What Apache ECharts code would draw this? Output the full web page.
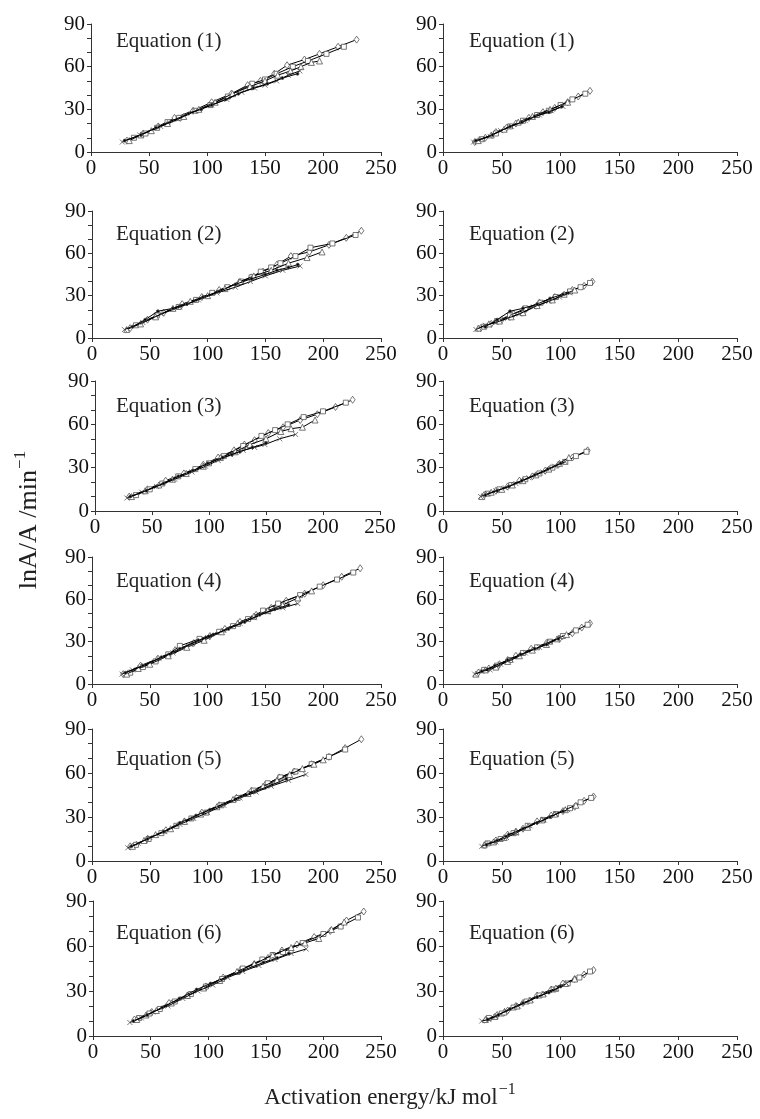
<!DOCTYPE html>
<html>
<head>
<meta charset="utf-8">
<script src="https://cdn.jsdelivr.net/npm/echarts@6/dist/echarts.min.js"></script>
<style>
html, body {margin: 0; padding: 0; background: #fff;}
#main {width: 760px; height: 1119px;}
</style>
</head>
<body>
<div id="main"></div>
<script>
// x ticks / y ticks shared by every panel
var xTicks = [0, 50, 100, 150, 200, 250];
var yTicks = [0, 30, 60, 90];
var panelTitles = ['Equation (1)', 'Equation (2)', 'Equation (3)', 'Equation (4)', 'Equation (5)', 'Equation (6)'];
var markerKinds = ['diamond', 'square', 'triangle', 'cross', 'dot'];

// left column: [diamond, square, triangle, cross, dot] series, each [E, lnA]
var left1 = [
    [[31,8],[45,13],[58,18],[72,24],[88,29],[104,35],[121,41],[135,47],[146,50],[158,55],[169,61],[184,65],[197,69],[213,74],[229,79]],
    [[37,10],[47,13],[57,17],[66,21],[76,24],[90,29],[103,33],[118,39],[139,48],[150,51],[160,55],[174,60],[187,64],[203,69],[218,74]],
    [[33,8],[43,12],[52,15],[66,20],[80,25],[93,30],[107,35],[122,41],[137,46],[150,50],[161,54],[172,57],[181,60],[190,63],[197,64]],
    [[27,7],[42,12],[60,18],[75,23],[90,29],[104,33],[117,37],[130,42],[141,45],[150,47],[160,50],[170,54],[180,57]],
    [[29,8],[43,12],[56,17],[70,22],[84,27],[95,30],[104,33],[116,37],[127,41],[140,45],[152,48],[165,52],[178,55]]
];
var left2 = [
    [[33,7],[48,13],[62,18],[78,24],[95,29],[110,34],[127,39],[138,43],[148,47],[160,52],[172,58],[188,61],[205,66],[220,71],[233,76]],
    [[38,9],[56,16],[75,22],[90,27],[104,32],[117,36],[129,40],[138,43],[146,47],[155,50],[163,53],[176,58],[189,64],[208,67],[228,73]],
    [[30,6],[42,10],[55,15],[70,21],[85,26],[100,30],[115,35],[128,40],[140,44],[155,48],[170,53],[186,57],[199,61]],
    [[28,6],[44,11],[60,17],[76,22],[92,27],[108,32],[124,36],[137,40],[150,44],[165,48],[180,51]],
    [[35,8],[46,13],[57,19],[70,21],[82,24],[96,29],[110,33],[124,38],[138,42],[150,45],[160,48],[170,50],[178,52]]
];
var left3 = [
    [[30,10],[46,15],[62,21],[78,26],[95,32],[108,37],[122,42],[131,46],[140,49],[152,54],[165,58],[180,63],[195,67],[211,72],[226,77]],
    [[36,11],[48,15],[59,19],[73,24],[88,29],[100,33],[113,38],[130,45],[146,52],[158,56],[169,60],[183,65],[200,69],[220,75]],
    [[32,10],[44,14],[56,18],[68,22],[80,26],[95,31],[110,37],[123,41],[136,46],[150,50],[163,55],[172,57],[182,58],[193,63]],
    [[28,9],[41,13],[54,17],[70,22],[85,27],[97,31],[108,35],[119,39],[130,42],[140,44],[149,46],[162,50],[176,53]],
    [[31,10],[45,14],[60,19],[73,24],[86,28],[99,33],[112,37],[120,39],[127,41],[138,44],[150,47]]
];
var left4 = [
    [[27,7],[42,13],[57,18],[72,24],[88,29],[102,34],[115,39],[128,44],[142,49],[155,54],[168,59],[184,64],[200,70],[216,76],[232,82]],
    [[33,8],[44,12],[55,16],[66,21],[76,27],[93,32],[110,37],[122,41],[135,46],[148,52],[161,57],[180,63],[197,69],[212,74],[226,79]],
    [[30,7],[40,11],[50,14],[66,20],[82,26],[97,31],[112,37],[126,43],[140,48],[152,52],[165,56],[178,61],[190,66]],
    [[26,7],[35,10],[45,13],[58,18],[70,22],[85,28],[100,33],[114,38],[128,43],[140,47],[152,51],[165,54],[178,57]],
    [[29,8],[44,13],[60,19],[76,25],[92,31],[105,35],[118,39],[132,44],[145,49],[158,53],[170,56]]
];
var left5 = [
    [[33,10],[48,15],[64,21],[80,27],[95,33],[110,38],[125,43],[138,48],[150,52],[162,57],[175,61],[190,66],[205,71],[219,77],[233,83]],
    [[38,11],[49,15],[60,19],[73,24],[86,29],[99,33],[112,38],[126,43],[140,48],[152,53],[163,57],[176,61],[190,66],[205,71],[219,76]],
    [[35,10],[45,14],[55,18],[68,22],[80,27],[94,32],[108,37],[122,42],[135,46],[148,51],[160,55],[171,59],[182,63],[192,66],[200,69]],
    [[31,9],[40,12],[50,16],[63,20],[76,25],[88,29],[100,33],[114,38],[128,43],[142,47],[155,51],[170,55],[185,59]],
    [[34,10],[48,15],[62,20],[76,26],[90,31],[102,35],[115,39],[129,44],[143,48],[156,52],[168,56]]
];
var left6 = [
    [[36,11],[51,16],[66,22],[82,27],[98,33],[113,39],[128,44],[140,48],[152,52],[164,57],[177,61],[192,66],[206,70],[220,77],[235,83]],
    [[40,12],[49,15],[58,18],[71,23],[85,28],[98,33],[112,38],[130,45],[147,51],[156,54],[165,56],[182,62],[200,68],[215,73],[230,79]],
    [[38,11],[46,14],[55,17],[68,22],[82,27],[96,32],[110,37],[125,43],[140,48],[156,54],[172,59],[184,62],[196,65],[207,71],[218,76]],
    [[32,9],[42,12],[52,16],[65,20],[78,25],[91,30],[104,34],[117,39],[130,43],[144,47],[158,51],[172,55],[185,58]],
    [[35,10],[47,14],[60,19],[75,25],[90,31],[102,35],[115,39],[131,44],[148,49],[160,52],[170,55]]
];

// right column
var right1 = [
    [[27,7],[36,10],[45,14],[54,17],[62,20],[73,24],[85,28],[95,31],[106,35],[115,39],[125,43]],
    [[33,9],[45,13],[57,18],[68,22],[80,26],[90,29],[100,33],[110,37],[121,41]],
    [[30,8],[41,12],[52,16],[64,21],[76,25],[91,30],[106,35]],
    [[26,7],[33,9],[40,11],[49,15],[58,18],[70,22],[82,26],[92,29],[102,32]],
    [[28,8],[42,12],[57,18],[67,21],[78,25],[90,28],[101,32]]
];
var right2 = [
    [[32,7],[41,10],[50,13],[60,17],[70,20],[82,25],[95,29],[110,34],[120,37],[127,40]],
    [[35,8],[46,12],[57,16],[70,21],[83,25],[96,29],[108,33],[117,36],[125,39]],
    [[30,7],[39,10],[48,12],[58,15],[68,18],[80,23],[93,27],[103,31],[112,34]],
    [[28,6],[36,9],[45,11],[55,14],[65,17],[77,22],[90,26],[99,29],[108,32]],
    [[36,8],[46,13],[57,19],[68,21],[80,24],[91,28],[102,31]]
];
var right3 = [
    [[35,11],[45,14],[55,17],[65,21],[76,24],[87,28],[98,32],[110,37],[123,42]],
    [[38,12],[48,15],[58,18],[70,22],[82,26],[93,30],[104,34],[113,38],[122,41]],
    [[33,10],[41,13],[50,15],[59,18],[68,21],[79,25],[90,29],[99,33],[107,37]],
    [[32,10],[38,12],[45,14],[53,16],[62,19],[73,23],[85,27],[95,31],[104,34]],
    [[36,11],[46,14],[56,17],[67,21],[78,25],[89,29],[100,33]]
];
var right4 = [
    [[30,8],[39,11],[48,14],[55,17],[62,20],[75,25],[88,29],[99,32],[110,36],[118,40],[125,43]],
    [[35,10],[46,13],[57,17],[68,22],[80,26],[91,30],[102,34],[113,38],[123,42]],
    [[28,7],[36,10],[45,12],[55,16],[65,20],[76,24],[88,28],[97,32],[105,35]],
    [[27,7],[33,9],[40,10],[49,14],[58,17],[70,22],[82,26],[91,30],[100,33]],
    [[33,9],[44,13],[55,17],[66,21],[78,25],[88,28],[98,32]]
];
var right5 = [
    [[36,11],[45,14],[55,18],[62,20],[68,22],[80,27],[92,31],[102,34],[112,37],[120,41],[128,44]],
    [[38,12],[49,15],[60,19],[72,24],[85,28],[96,32],[108,36],[117,40],[126,43]],
    [[35,11],[43,13],[52,16],[62,20],[72,23],[84,28],[95,32],[104,35],[113,38]],
    [[33,10],[39,12],[45,13],[54,16],[62,19],[74,24],[86,28],[96,32],[106,35]],
    [[37,11],[46,14],[56,18],[68,22],[80,26],[91,30],[102,34]]
];
var right6 = [
    [[37,11],[46,14],[55,17],[62,20],[68,22],[80,27],[92,31],[102,35],[112,38],[120,41],[128,44]],
    [[39,12],[50,15],[60,19],[71,23],[82,27],[94,31],[106,35],[116,39],[125,43]],
    [[36,11],[44,13],[52,16],[63,20],[74,24],[85,28],[96,32],[104,35],[112,38]],
    [[33,10],[39,11],[45,13],[54,17],[64,20],[75,24],[86,28],[96,31],[105,35]],
    [[38,11],[47,14],[57,18],[68,22],[80,26],[90,29],[100,33]]
];

var leftData = [left1, left2, left3, left4, left5, left6];
var rightData = [right1, right2, right3, right4, right5, right6];

// panel boxes [top, height], title offsets from box top
var rowBox = [[24,128],[211,127],[381,130],[557,127],[729,132],[901,135]];
var leftBox = [[91,290],[92,289],[95,285],[92,289],[92,289],[93,288]];
var rightBox = [443, 294];
var titleTop = [31, 224, 396, 571, 749, 923];

var fontFam = '"Liberation Serif", "Times New Roman", serif';

var markerStyle = {
    diamond:  {symbol: 'diamond', size: [5, 7], fill: '#fff'},
    square:   {symbol: 'rect', size: 5, fill: '#fff'},
    triangle: {symbol: 'triangle', size: 6, fill: '#fff'},
    cross:    {symbol: 'path://M0,0L10,10M10,0L0,10', size: 5, fill: 'none'},
    dot:      {symbol: 'circle', size: 3, fill: '#000'}
};

var grids = [], xAxes = [], yAxes = [], series = [], graphics = [];

function addPanel(box, panelData, title, tx, ty) {
    var idx = grids.length;
    grids.push({left: box.left, top: box.top, width: box.width, height: box.height, containLabel: false});
    xAxes.push({
        type: 'value', gridIndex: idx, min: xTicks[0], max: xTicks[xTicks.length - 1], interval: 50,
        splitLine: {show: false},
        axisLine: {lineStyle: {color: '#333', width: 1}},
        axisTick: {length: 4, lineStyle: {color: '#333'}},
        axisLabel: {color: '#111', fontFamily: fontFam, fontSize: 21, margin: 6}
    });
    yAxes.push({
        type: 'value', gridIndex: idx, min: yTicks[0], max: yTicks[yTicks.length - 1], interval: 10,
        splitLine: {show: false},
        axisLine: {show: true, lineStyle: {color: '#333', width: 1}},
        axisTick: {show: true, length: 4, lineStyle: {color: '#333'}},
        axisLabel: {
            color: '#111', fontFamily: fontFam, fontSize: 21, margin: 6,
            formatter: function (v) { return yTicks.indexOf(v) >= 0 ? String(v) : ''; }
        }
    });
    panelData.forEach(function (pts, k) {
        var m = markerStyle[markerKinds[k]];
        series.push({
            type: 'line', xAxisIndex: idx, yAxisIndex: idx,
            data: pts, symbol: m.symbol, symbolSize: m.size,
            showAllSymbol: true,
            lineStyle: {color: '#000', width: 1},
            itemStyle: {color: m.fill === 'none' ? '#fff' : m.fill, borderColor: '#555', borderWidth: 0.8},
            z: 3 + k
        });
    });
    graphics.push({
        type: 'text', left: tx, top: ty,
        style: {text: title, fontFamily: fontFam, fontSize: 21, fill: '#222'}
    });
}

for (var r = 0; r < 6; r++) {
    addPanel({left: leftBox[r][0], width: leftBox[r][1], top: rowBox[r][0], height: rowBox[r][1]}, leftData[r], panelTitles[r], 116, titleTop[r]);
    addPanel({left: rightBox[0], width: rightBox[1], top: rowBox[r][0], height: rowBox[r][1]}, rightData[r], panelTitles[r], 469, titleTop[r]);
}

// shared axis titles
graphics.push({
    type: 'text', x: 29, y: 520, rotation: Math.PI / 2,
    style: {
        text: '{a|lnA/A /min}{b|\u22121}', align: 'center', verticalAlign: 'middle',
        rich: {
            a: {fontFamily: fontFam, fontSize: 26, fill: '#222'},
            b: {fontFamily: fontFam, fontSize: 17, fill: '#222', padding: [0, 0, 17, 1]}
        }
    }
});
graphics.push({
    type: 'text', x: 390, y: 1098,
    style: {
        text: '{a|Activation energy/kJ mol}{b|\u22121}', align: 'center', verticalAlign: 'middle',
        rich: {
            a: {fontFamily: fontFam, fontSize: 23, fill: '#222'},
            b: {fontFamily: fontFam, fontSize: 16, fill: '#222', padding: [0, 0, 16, 1]}
        }
    }
});

var myChart = echarts.init(document.getElementById('main'));
myChart.setOption({
    animation: false,
    backgroundColor: '#fff',
    grid: grids,
    xAxis: xAxes,
    yAxis: yAxes,
    series: series,
    graphic: graphics
});
</script>
</body>
</html>
